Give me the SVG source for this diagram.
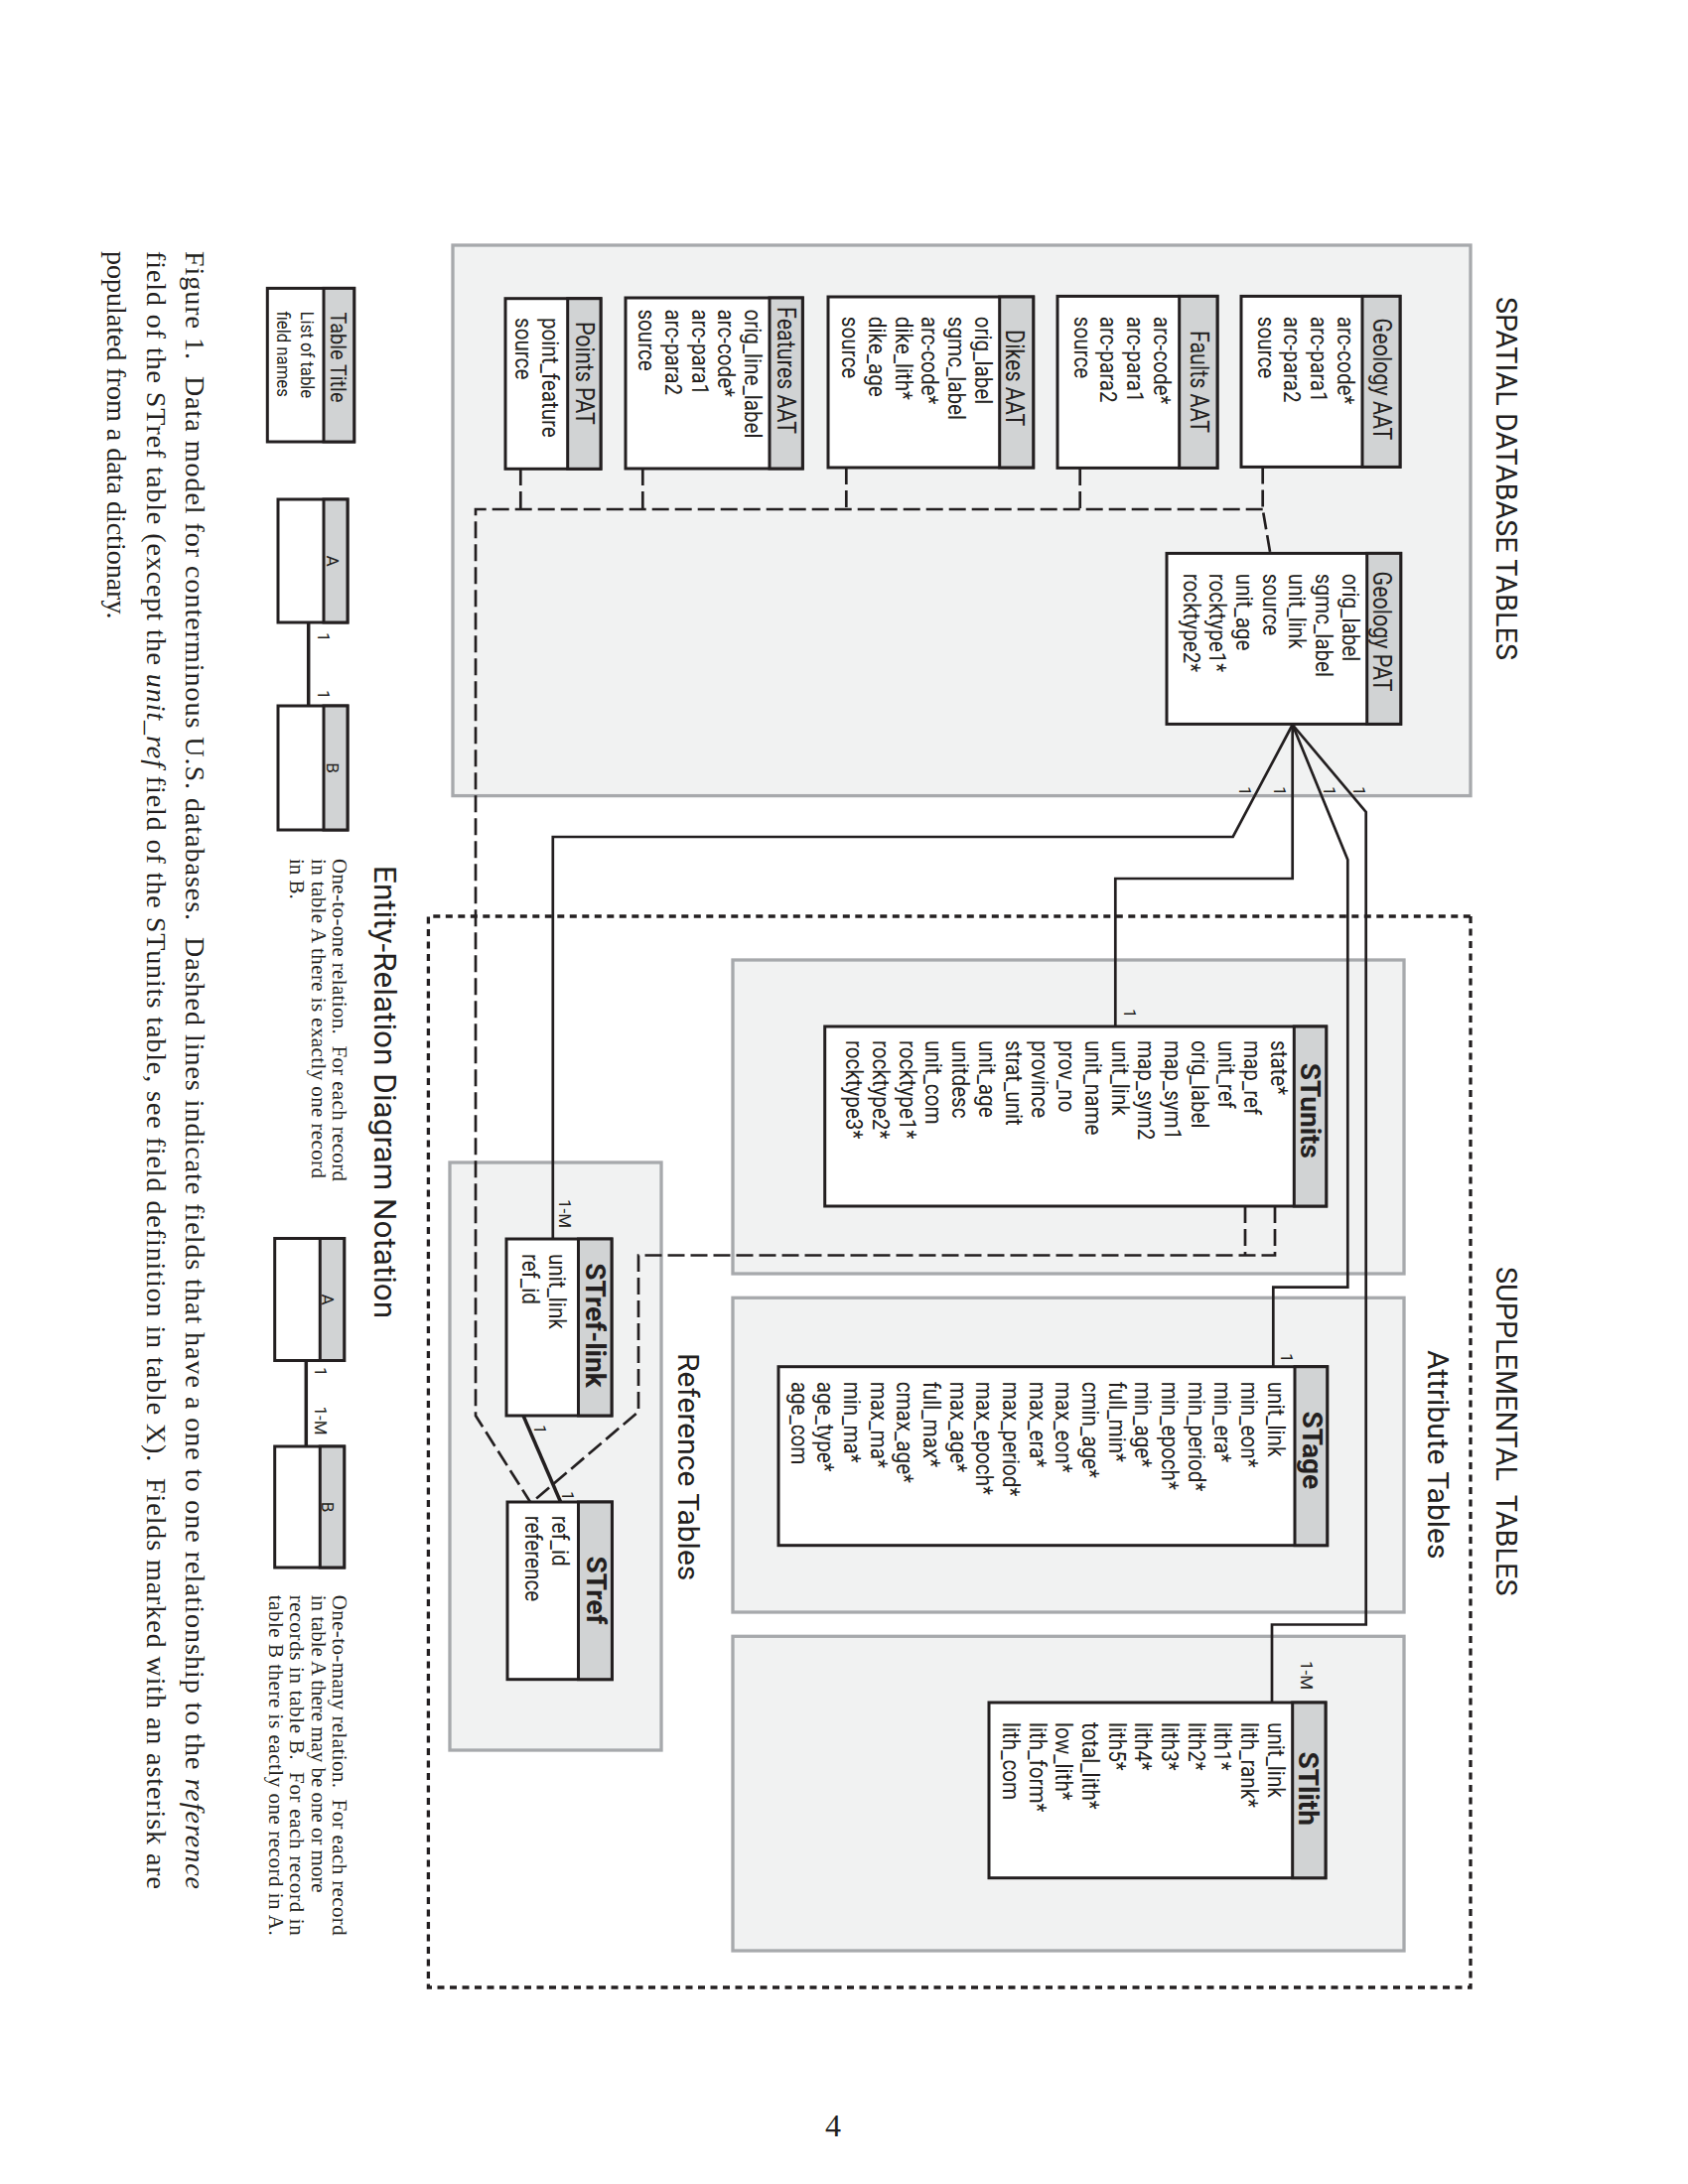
<svg xmlns="http://www.w3.org/2000/svg" width="1700" height="2200" viewBox="0 0 1700 2200">
<style>
  .panel{fill:#f1f2f2;stroke:#a7a9ac;stroke-width:3.3}
  .dot{fill:none;stroke:#231f20;stroke-width:3.3;stroke-dasharray:7 5.5}
  .body{fill:#fff;stroke:#231f20;stroke-width:3}
  .head{fill:#d1d3d4;stroke:#231f20;stroke-width:3}
  .sans{font-family:Roboto,"Liberation Sans",sans-serif;fill:#231f20}
  .fld{font-family:Roboto,"Liberation Sans",sans-serif;font-size:24px;fill:#231f20}
  .hd{font-family:Roboto,"Liberation Sans",sans-serif;font-size:25px;fill:#231f20;text-anchor:middle}
  .hb{font-family:Roboto,"Liberation Sans",sans-serif;font-size:28px;font-weight:bold;fill:#231f20;text-anchor:middle}
  .lbl{font-family:Roboto,"Liberation Sans",sans-serif;font-size:17px;fill:#231f20}
  .ttl{font-family:Roboto,"Liberation Sans",sans-serif;font-size:28.8px;fill:#231f20}
  .sec{font-family:Roboto,"Liberation Sans",sans-serif;font-size:30px;fill:#231f20}
  .link{fill:none;stroke:#231f20;stroke-width:2.7}
  .thick{stroke-width:3.5}
  .dash{fill:none;stroke:#231f20;stroke-width:2.7;stroke-dasharray:17 6}
  .cap{font-family:"Liberation Serif","Times New Roman",serif;font-size:28px;fill:#231f20}
  .note{font-family:"Liberation Serif","Times New Roman",serif;font-size:21px;fill:#231f20}
</style>
<rect x="0" y="0" width="1700" height="2200" fill="#fff"/>

<!-- whole figure is laid out landscape and turned a quarter turn clockwise -->
<g transform="translate(1700,0) rotate(90)">

  <!-- grey section panels and the dotted supplemental frame -->
  <g id="panels">
    <rect class="panel" x="247" y="219" width="554.6" height="1025"/>
    <rect class="dot" x="923" y="219" width="1079" height="1049.6"/>
    <rect class="panel" x="967" y="286" width="316" height="676"/>
    <rect class="panel" x="1307.3" y="286" width="316.7" height="676"/>
    <rect class="panel" x="1648.3" y="286" width="316.7" height="676"/>
    <rect class="panel" x="1171" y="1034" width="592" height="213"/>
  </g>

  <!-- section titles -->
  <text class="ttl" x="299" y="193">SPATIAL DATABASE TABLES</text>
  <text class="ttl" x="1276" y="193">SUPPLEMENTAL&#160; TABLES</text>
  <text class="sec" x="1360" y="262">Attribute Tables</text>
  <text class="sec" x="1363" y="1017.5">Reference Tables</text>

  <!-- relations between tables -->
  <g id="connectors">
    <path class="link" d="M730,398.3 L843,458.3 L843,1143.2 L1248,1143.2"/>
    <path class="link" d="M730,398.3 L885,398.3 L885,576.7 L1034,576.7"/>
    <path class="link" d="M730,398.3 L866,342.7 L1296.7,342.7 L1296.7,417.7 L1376.7,417.7"/>
    <path class="link" d="M730,398.3 L818,324.3 L1636.5,324.3 L1636.5,419 L1715,419"/>
    <path class="link thick" d="M1426,1173 L1513,1135.4"/>
    <path class="dash" d="M470.5,428.3 L513,428.3 L557.4,420.7"/>
    <path class="dash" d="M513,428.3 L513,1221 L1426,1221 L1513,1166"/>
    <path class="dash" d="M472,612.3 L513,612.3"/>
    <path class="dash" d="M471,847.7 L513,847.7"/>
    <path class="dash" d="M472,1052.7 L513,1052.7"/>
    <path class="dash" d="M472,1175.7 L513,1175.7"/>
    <path class="dash" d="M1215,446 L1264.5,446"/>
    <path class="dash" d="M1215,416 L1264.5,416 L1264.5,1057 L1422,1057 L1513,1164"/>
    <path class="link thick" d="M627,1389.3 L711,1389.3"/>
    <path class="link thick" d="M1370.5,1391.7 L1457,1391.7"/>
    <g class="lbl">
      <text x="792" y="452">1</text>
      <text x="792" y="417">1</text>
      <text x="792" y="367">1</text>
      <text x="792" y="337">1</text>
      <text x="1016" y="568">1</text>
      <text x="1363" y="410">1</text>
      <text x="1673" y="390">1-M</text>
      <text x="1208" y="1137">1-M</text>
      <text x="1435" y="1162">1</text>
      <text x="1502" y="1134">1</text>
      <text x="637" y="1380">1</text>
      <text x="695" y="1380">1</text>
      <text x="1377" y="1383.3">1</text>
      <text x="1416.5" y="1383.3">1-M</text>
    </g>
  </g>

  <!-- spatial database tables -->
  <g id="geology-aat">
    <rect class="body" x="298.4" y="290" width="172" height="160"/>
    <rect class="head" x="298.4" y="290" width="172" height="38"/>
    <text class="hd" transform="translate(382,317) scale(0.86,1)">Geology AAT</text>
    <g class="fld" transform="translate(318.8,0) scale(0.86,1)">
      <text y="353.3">arc-code*</text>
      <text y="380">arc-para1</text>
      <text y="406.7">arc-para2</text>
      <text y="433.3">source</text>
    </g>
  </g>

  <g id="faults-aat">
    <rect class="body" x="298.4" y="474" width="173" height="161"/>
    <rect class="head" x="298.4" y="474" width="173" height="38.3"/>
    <text class="hd" transform="translate(384.5,500.7) scale(0.86,1)">Faults AAT</text>
    <g class="fld" transform="translate(318.8,0) scale(0.86,1)">
      <text y="538.3">arc-code*</text>
      <text y="565">arc-para1</text>
      <text y="591.7">arc-para2</text>
      <text y="618.3">source</text>
    </g>
  </g>

  <g id="dikes-aat">
    <rect class="body" x="299" y="659.3" width="172" height="206.7"/>
    <rect class="head" x="299" y="659.3" width="172" height="34"/>
    <text class="hd" transform="translate(380.7,686.7) scale(0.86,1)">Dikes AAT</text>
    <g class="fld" transform="translate(318.8,0) scale(0.86,1)">
      <text y="718.3">orig_label</text>
      <text y="745">sgmc_label</text>
      <text y="771.7">arc-code*</text>
      <text y="798.3">dike_lith*</text>
      <text y="825">dike_age</text>
      <text y="851.7">source</text>
    </g>
  </g>

  <g id="features-aat">
    <rect class="body" x="300" y="891.7" width="172" height="178.3"/>
    <rect class="head" x="300" y="891.7" width="172" height="33.3"/>
    <text class="hd" transform="translate(373,917.3) scale(0.86,1)">Features AAT</text>
    <g class="fld" transform="translate(311.4,0) scale(0.86,1)">
      <text y="950">orig_line_label</text>
      <text y="976.7">arc-code*</text>
      <text y="1003.3">arc-para1</text>
      <text y="1030">arc-para2</text>
      <text y="1056.7">source</text>
    </g>
  </g>

  <g id="points-pat">
    <rect class="body" x="300.7" y="1095" width="171.6" height="96"/>
    <rect class="head" x="300.7" y="1095" width="171.6" height="33.3"/>
    <text class="hd" transform="translate(375.8,1120) scale(0.86,1)">Points PAT</text>
    <g class="fld" transform="translate(320,0) scale(0.86,1)">
      <text y="1154">point_feature</text>
      <text y="1180.7">source</text>
    </g>
  </g>

  <g id="geology-pat">
    <rect class="body" x="557.4" y="289.3" width="172" height="235.7"/>
    <rect class="head" x="557.4" y="289.3" width="172" height="34"/>
    <text class="hd" transform="translate(636,317) scale(0.86,1)">Geology PAT</text>
    <g class="fld" transform="translate(577.8,0) scale(0.86,1)">
      <text y="348.3">orig_label</text>
      <text y="375">sgmc_label</text>
      <text y="401.7">unit_link</text>
      <text y="428.3">source</text>
      <text y="455">unit_age</text>
      <text y="481.7">rocktype1*</text>
      <text y="508.3">rocktype2*</text>
    </g>
  </g>

  <!-- attribute tables -->
  <g id="stunits">
    <rect class="body" x="1034" y="364.3" width="181" height="505"/>
    <rect class="head" x="1034" y="364.3" width="181" height="32.4"/>
    <text class="hb" x="1118.8" y="390">STunits</text>
    <g class="fld" transform="translate(1048,0) scale(0.86,1)">
      <text y="420">state*</text>
      <text y="446.75">map_ref</text>
      <text y="473.5">unit_ref</text>
      <text y="500.25">orig_label</text>
      <text y="527">map_sym1</text>
      <text y="553.75">map_sym2</text>
      <text y="580.5">unit_link</text>
      <text y="607.25">unit_name</text>
      <text y="634">prov_no</text>
      <text y="660.75">province</text>
      <text y="687.5">strat_unit</text>
      <text y="714.25">unit_age</text>
      <text y="741">unitdesc</text>
      <text y="767.75">unit_com</text>
      <text y="794.5">rocktype1*</text>
      <text y="821.25">rocktype2*</text>
      <text y="848">rocktype3*</text>
    </g>
  </g>

  <g id="stage">
    <rect class="body" x="1376.7" y="363.3" width="180" height="552.7"/>
    <rect class="head" x="1376.7" y="363.3" width="180" height="32.7"/>
    <text class="hb" x="1460.8" y="388.3">STage</text>
    <g class="fld" transform="translate(1391.7,0) scale(0.86,1)">
      <text y="423.3">unit_link</text>
      <text y="450">min_eon*</text>
      <text y="476.7">min_era*</text>
      <text y="503.3">min_period*</text>
      <text y="530">min_epoch*</text>
      <text y="556.7">min_age*</text>
      <text y="583.3">full_min*</text>
      <text y="610">cmin_age*</text>
      <text y="636.7">max_eon*</text>
      <text y="663.3">max_era*</text>
      <text y="690">max_period*</text>
      <text y="716.7">max_epoch*</text>
      <text y="743.3">max_age*</text>
      <text y="770">full_max*</text>
      <text y="796.7">cmax_age*</text>
      <text y="823.3">max_ma*</text>
      <text y="850">min_ma*</text>
      <text y="876.7">age_type*</text>
      <text y="903.3">age_com</text>
    </g>
  </g>

  <g id="stlith">
    <rect class="body" x="1715" y="365" width="176.7" height="339"/>
    <rect class="head" x="1715" y="365" width="176.7" height="33.3"/>
    <text class="hb" x="1801.7" y="391.7">STlith</text>
    <g class="fld" transform="translate(1735,0) scale(0.86,1)">
      <text y="423.3">unit_link</text>
      <text y="450">lith_rank*</text>
      <text y="476.7">lith1*</text>
      <text y="503.3">lith2*</text>
      <text y="530">lith3*</text>
      <text y="556.7">lith4*</text>
      <text y="583.3">lith5*</text>
      <text y="610">total_lith*</text>
      <text y="636.7">low_lith*</text>
      <text y="663.3">lith_form*</text>
      <text y="690">lith_com</text>
    </g>
  </g>

  <!-- reference tables -->
  <g id="stref-link">
    <rect class="body" x="1248" y="1084" width="178" height="106"/>
    <rect class="head" x="1248" y="1084" width="178" height="33.5"/>
    <text class="hb" x="1335" y="1110.4">STref-link</text>
    <g class="fld" transform="translate(1263,0) scale(0.86,1)">
      <text y="1147">unit_link</text>
      <text y="1174">ref_id</text>
    </g>
  </g>

  <g id="stref">
    <rect class="body" x="1513" y="1083.6" width="178.7" height="105.4"/>
    <rect class="head" x="1513" y="1083.6" width="178.7" height="33.9"/>
    <text class="hb" x="1602" y="1109.3">STref</text>
    <g class="fld" transform="translate(1526.7,0) scale(0.86,1)">
      <text y="1144.3">ref_id</text>
      <text y="1171">reference</text>
    </g>
  </g>

  <!-- notation legend -->
  <text class="sec" x="872" y="1323.3" style="font-size:31.5px">Entity-Relation Diagram Notation</text>

  <g id="legend-table">
    <rect class="body" x="290.4" y="1343.3" width="154.6" height="87.4"/>
    <rect class="head" x="290.4" y="1343.3" width="154.6" height="30.7"/>
    <text class="hd" transform="translate(360,1367) scale(0.9,1)" style="font-size:22px">Table Title</text>
    <g class="sans" style="font-size:19px" transform="translate(313.6,0) scale(0.88,1)">
      <text y="1396.7">List of table</text>
      <text y="1420.7">field names</text>
    </g>
  </g>

  <g id="legend-one-a">
    <rect class="body" x="503" y="1350" width="124" height="70"/>
    <rect class="head" x="503" y="1350" width="124" height="24"/>
    <text class="lbl" x="565" y="1371" text-anchor="middle">A</text>
  </g>
  <g id="legend-one-b">
    <rect class="body" x="711" y="1350" width="125" height="70"/>
    <rect class="head" x="711" y="1350" width="125" height="24"/>
    <text class="lbl" x="773.5" y="1371" text-anchor="middle">B</text>
  </g>
  <g class="note">
    <text x="865" y="1365" textLength="325" lengthAdjust="spacing">One-to-one relation.&#160; For each record</text>
    <text x="865" y="1386.4" textLength="322" lengthAdjust="spacing">in table A there is exactly one record</text>
    <text x="865" y="1407.8">in B.</text>
  </g>

  <g id="legend-many-a">
    <rect class="body" x="1247.5" y="1353.3" width="123" height="70"/>
    <rect class="head" x="1247.5" y="1353.3" width="123" height="24.4"/>
    <text class="lbl" x="1309" y="1376" text-anchor="middle">A</text>
  </g>
  <g id="legend-many-b">
    <rect class="body" x="1457" y="1353.3" width="122" height="70"/>
    <rect class="head" x="1457" y="1353.3" width="122" height="24.4"/>
    <text class="lbl" x="1518" y="1376" text-anchor="middle">B</text>
  </g>
  <g class="note">
    <text x="1606.7" y="1365" textLength="343" lengthAdjust="spacing">One-to-many relation.&#160; For each record</text>
    <text x="1606.7" y="1386.4" textLength="300" lengthAdjust="spacing">in table A there may be one or more</text>
    <text x="1606.7" y="1407.8" textLength="343" lengthAdjust="spacing">records in table B.&#160; For each record in</text>
    <text x="1606.7" y="1429.2" textLength="343" lengthAdjust="spacing">table B there is eactly one record in A.</text>
  </g>

  <!-- figure caption -->
  <g class="cap">
    <text x="253" y="1513.3" textLength="1650" lengthAdjust="spacing">Figure 1.&#160; Data model for conterminous U.S. databases.&#160; Dashed lines indicate fields that have a one to one relationship to the <tspan font-style="italic">reference</tspan></text>
    <text x="253" y="1551.7" textLength="1650" lengthAdjust="spacing">field of the STref table (except the <tspan font-style="italic">unit_ref</tspan> field of the STunits table, see field definition in table X).&#160; Fields marked with an asterisk are</text>
    <text x="253" y="1591.7">populated from a data dictionary.</text>
  </g>
</g>

<!-- page number -->
<text x="839" y="2152" text-anchor="middle" font-family="'Liberation Serif','Times New Roman',serif" font-size="32" fill="#231f20">4</text>
</svg>
